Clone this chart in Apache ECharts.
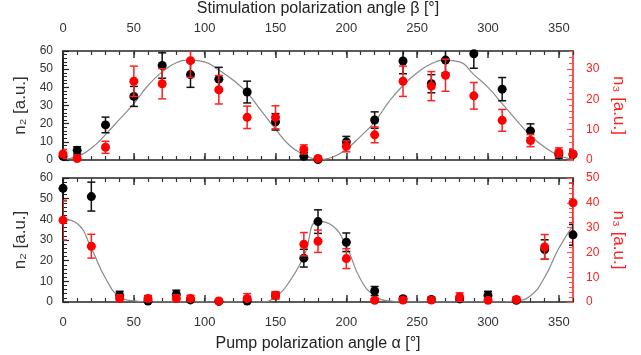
<!DOCTYPE html>
<html>
<head>
<meta charset="utf-8">
<script src="https://cdn.jsdelivr.net/npm/echarts@6/dist/echarts.min.js"></script>
<style>
html, body { margin: 0; padding: 0; background: #fff; }
#main { width: 641px; height: 355px; }
</style>
</head>
<body>
<div id="main"></div>
<script>
// top panel: stimulation angle beta
const betaAngles = [0, 10, 30, 50, 70, 90, 110, 130, 150, 170, 180, 200, 220, 240, 260, 270, 290, 310, 330, 350, 360];
const betaN2    = [2, 5.3, 19.3, 35, 52, 47, 44.5, 37.4, 21, 2, 0.3, 10, 22, 54.5, 42, 55, 58.5, 39, 16, 3, 3];
const betaN2Err = [1.5, 2, 4.3, 5.5, 7, 7, 6.5, 6, 4.5, 2, 0.5, 3, 4.5, 7, 5, 7, 8, 6.4, 3.9, 2, 2];
const betaN3    = [2, 0.5, 4.2, 26, 25.2, 32.8, 23.2, 14.1, 14.1, 3.5, 0.5, 4.5, 8.3, 26, 24.4, 28, 21.2, 13.1, 6.4, 2.5, 2];
const betaN3Err = [1.5, 0.8, 2, 5, 5, 5.5, 4.7, 3.7, 3.8, 1.5, 0.5, 1.8, 2.6, 5, 4.8, 5.3, 4.4, 3.6, 2, 1.5, 1.5];

// bottom panel: pump angle alpha
const alphaAngles = [0, 20, 40, 60, 80, 90, 110, 130, 150, 170, 180, 200, 220, 240, 260, 280, 300, 320, 340, 360];
const alphaN2    = [55, 51, 3.2, 0.5, 3.7, 1, 0.3, 0.5, 3.2, 21.2, 38.9, 28.9, 5.3, 1.6, 1.2, 1.5, 3.2, 0.8, 25.4, 32.5];
const alphaN2Err = [6, 7, 2, 0.8, 2, 0.8, 0.5, 0.8, 1.5, 4.3, 5.7, 4.5, 2.2, 1, 1, 1, 2, 0.8, 4.7, 5];
const alphaN3    = [33, 22.5, 1.4, 1.4, 1.4, 1.4, 0.4, 1.4, 2.7, 23.3, 24.5, 17.5, 0.7, 0.8, 0.8, 2, 0.7, 1, 22.2, 40];
const alphaN3Err = [8, 4.8, 1.5, 1.2, 1.5, 1.3, 0.5, 2, 1.5, 4.7, 4.5, 4, 0.7, 0.8, 0.8, 1.7, 0.7, 1, 5, 8];

// fitted curves (n2 units), read every 10 degrees
const fitAngles = [0, 10, 20, 30, 40, 50, 60, 70, 80, 90, 100, 110, 120, 130, 140, 150, 160, 170, 180,
                   190, 200, 210, 220, 230, 240, 250, 260, 270, 280, 290, 300, 310, 320, 330, 340, 350, 360];
const betaFit  = [0.3, 2, 6.5, 14, 22.5, 31, 41, 48.5, 53.5, 55, 54, 49.5, 44, 37, 27, 17, 8, 3, 0.3,
                  1.5, 6, 13, 21, 32, 41, 48, 53, 55, 54, 47, 40, 31, 22, 13.5, 7, 2.5, 0.3];
const alphaFit = [40, 38, 26, 11.5, 2.5, 0.5, 0, 0, 0, 0, 0, 0, 0, 0, 0, 2.5, 10, 22, 39,
                  37, 27, 11, 3, 0.5, 0, 0, 0, 0, 0, 0, 0, 0, 0.5, 3, 12, 26, 37];

const font = 'Liberation Sans';
const red = '#ff2020';

function xAxes(grid, pos, labels, name, gap) {
    return [{
        type: 'value', gridIndex: grid, position: pos, min: 0, max: 360, interval: 50,
        name: name, nameLocation: 'middle', nameGap: gap,
        nameTextStyle: {fontFamily: font, fontSize: 16, color: '#222'},
        axisLine: {onZero: false, lineStyle: {color: '#5a5a5a', width: 2}},
        axisTick: {inside: true, length: 7, lineStyle: {color: '#333', width: 1.5}},
        axisLabel: {show: labels, showMaxLabel: false, margin: pos === 'top' ? 16 : 14, fontFamily: font, fontSize: 13, color: '#333'},
        splitLine: {show: false}
    }, {
        type: 'value', gridIndex: grid, position: pos, min: 0, max: 360, interval: 10,
        axisLine: {show: false, onZero: false},
        axisTick: {inside: true, length: 4, lineStyle: {color: '#333', width: 1.2}},
        axisLabel: {show: false}, splitLine: {show: false}
    }];
}

function yAxes(grid, pos, max, name, color, lineColor, gap, rot, margin) {
    return [{
        type: 'value', gridIndex: grid, position: pos, min: 0, max: max, interval: 10,
        name: name, nameLocation: 'middle', nameGap: gap, nameRotate: rot,
        nameTextStyle: {fontFamily: font, fontSize: 17, color: color},
        axisLine: {onZero: false, lineStyle: {color: lineColor, width: 2}},
        axisTick: {inside: true, length: 6, lineStyle: {color: lineColor, width: 1.2}},
        axisLabel: {showMaxLabel: max % 10 === 0, margin: margin, fontFamily: font, fontSize: 12, color: color},
        splitLine: {show: false}
    }, {
        type: 'value', gridIndex: grid, position: pos, min: 0, max: max, interval: 2,
        axisLine: {show: false, onZero: false},
        axisTick: {inside: true, length: 4, lineStyle: {color: lineColor, width: 1}},
        axisLabel: {show: false}, splitLine: {show: false}
    }];
}

function errorBars(params, api) {
    let x = api.value(0), y = api.value(1), e = api.value(2);
    let hi = api.coord([x, y + e]);
    let lo = api.coord([x, y - e]);
    let w = 4;
    let style = {stroke: api.visual('color'), lineWidth: 1.5};
    return {
        type: 'group',
        children: [
            {type: 'line', shape: {x1: hi[0], y1: hi[1], x2: lo[0], y2: lo[1]}, style: style},
            {type: 'line', shape: {x1: hi[0] - w, y1: hi[1], x2: hi[0] + w, y2: hi[1]}, style: style},
            {type: 'line', shape: {x1: lo[0] - w, y1: lo[1], x2: lo[0] + w, y2: lo[1]}, style: style}
        ]
    };
}

function panel(xi, yl, yr, angles, n2, n2e, n3, n3e, fit) {
    return [
        {type: 'line', xAxisIndex: xi, yAxisIndex: yl, data: fitAngles.map((a, i) => [a, fit[i]]),
            showSymbol: false, smooth: true, lineStyle: {color: '#8a8a8a', width: 1.2}, z: 1},
        {type: 'custom', xAxisIndex: xi, yAxisIndex: yl, renderItem: errorBars, clip: true,
            itemStyle: {color: '#111'}, data: angles.map((a, i) => [a, n2[i], n2e[i]]), z: 2},
        {type: 'scatter', xAxisIndex: xi, yAxisIndex: yl, symbolSize: 9, itemStyle: {color: '#000', opacity: 1},
            data: angles.map((a, i) => [a, n2[i]]), clip: true, z: 3},
        {type: 'custom', xAxisIndex: xi, yAxisIndex: yr, renderItem: errorBars, clip: true,
            itemStyle: {color: red}, data: angles.map((a, i) => [a, n3[i], n3e[i]]), z: 4},
        {type: 'scatter', xAxisIndex: xi, yAxisIndex: yr, symbolSize: 9, itemStyle: {color: '#ff0000', opacity: 1},
            data: angles.map((a, i) => [a, n3[i]]), clip: true, z: 5}
    ];
}

let myChart = echarts.init(document.getElementById('main'));
let option = {
    animation: false,
    grid: [
        {left: 63, right: 68, top: 43, height: 117},
        {left: 63, right: 68, top: 178, height: 124}
    ],
    xAxis: [].concat(
        xAxes(0, 'top', true, 'Stimulation polarization angle β [°]', 34),
        xAxes(0, 'bottom', false, '', 0),
        xAxes(1, 'top', false, '', 0),
        xAxes(1, 'bottom', true, 'Pump polarization angle α [°]', 34)
    ),
    yAxis: [].concat(
        yAxes(0, 'left', 60, 'n₂ [a.u.]', '#333', '#222', 31, 90, 10),
        yAxes(0, 'right', 36, 'n₃ [a.u.]', red, '#ff5050', 25, -90, 13),
        yAxes(1, 'left', 60, 'n₂ [a.u.]', '#333', '#222', 31, 90, 10),
        yAxes(1, 'right', 50, 'n₃ [a.u.]', red, '#ff5050', 25, -90, 13)
    ),
    series: [].concat(
        panel(0, 0, 2, betaAngles, betaN2, betaN2Err, betaN3, betaN3Err, betaFit),
        panel(6, 4, 6, alphaAngles, alphaN2, alphaN2Err, alphaN3, alphaN3Err, alphaFit)
    )
};
myChart.setOption(option);
</script>
</body>
</html>
